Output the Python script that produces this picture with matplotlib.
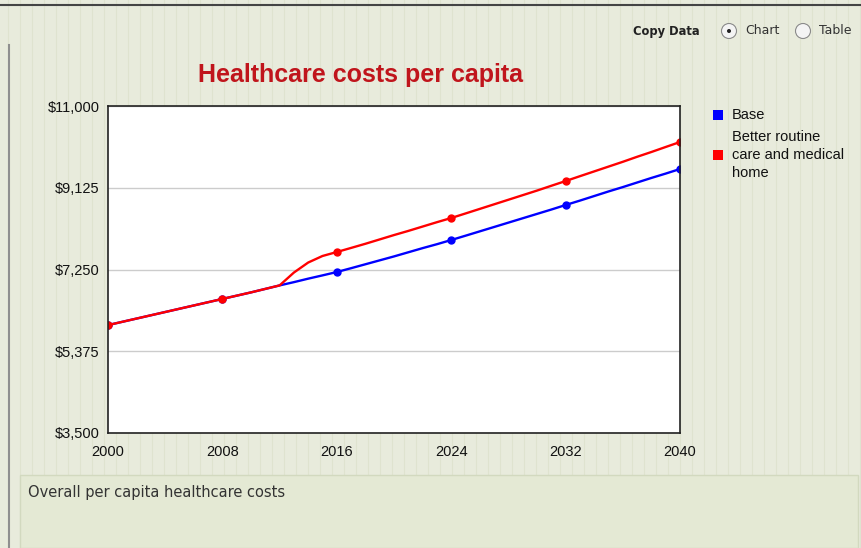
import matplotlib
matplotlib.use("Agg")
import matplotlib.pyplot as plt
from matplotlib.patches import Rectangle, Circle
from matplotlib.lines import Line2D
from matplotlib.ticker import FuncFormatter

years = list(range(2000, 2041))
base = [5975, 6050, 6125, 6200, 6275, 6350, 6425, 6500, 6575, 6650,
        6725, 6805, 6885, 6960, 7040, 7115, 7192, 7280, 7370, 7460,
        7550, 7645, 7740, 7830, 7926, 8025, 8125, 8225, 8325, 8425,
        8525, 8625, 8729, 8830, 8935, 9040, 9140, 9245, 9350, 9450, 9555]
better_care = [5975, 6050, 6125, 6200, 6275, 6350, 6425, 6500, 6575, 6650,
               6725, 6805, 6885, 7180, 7410, 7560, 7651, 7745, 7840, 7940,
               8040, 8135, 8235, 8335, 8431, 8535, 8640, 8745, 8850, 8955,
               9060, 9170, 9279, 9390, 9500, 9610, 9720, 9835, 9945, 10060, 10174]
series_names = ["Base", "Better routine\ncare and medical\nhome"]
yticks = [3500, 5375, 7250, 9125, 11000]
xticks = [2000, 2008, 2016, 2024, 2032, 2040]

W, H = 861, 548
bg = "#e8ebdc"
fig = plt.figure(figsize=(W / 100, H / 100), dpi=100, facecolor=bg)

# faint vertical stripes of the page background
for x in range(8, W, 12):
    fig.add_artist(Line2D([x / W, x / W], [0, 1], color="#dfe3cf", lw=0.8, zorder=0))

# top border and left border
fig.add_artist(Line2D([0, 1], [1 - 5 / H, 1 - 5 / H], color="#444444", lw=1.5))
fig.add_artist(Line2D([9 / W, 9 / W], [0, 1 - 45 / H], color="#8f8f8f", lw=1.5))

# caption box at the bottom
fig.add_artist(Rectangle((20 / W, 0), 838 / W, 73 / H, transform=fig.transFigure,
                         facecolor="#e4e9d4", edgecolor="#d2d9bf", lw=1.0, zorder=1))
fig.text(28 / W, 1 - 492 / H, "Overall per capita healthcare costs", fontsize=10.5,
         color="#333333", family="DejaVu Sans", va="center", ha="left")

# copy data / radio controls
fig.text(700 / W, 1 - 31 / H, "Copy Data", fontsize=8.3, fontweight="bold",
         color="#222222", family="DejaVu Sans", ha="right", va="center")
for cx, label, sel in [(729, "Chart", True), (803, "Table", False)]:
    c = Circle((cx, H - 31), 7.5, transform=None, facecolor="#f4f4f4",
               edgecolor="#8a8a8a", lw=0.8)
    fig.add_artist(c)
    if sel:
        fig.add_artist(Circle((cx, H - 31), 2, transform=None,
                              facecolor="#222222", edgecolor="none"))
    fig.text((cx + 16) / W, 1 - 31 / H, label, fontsize=9, color="#333333",
             family="DejaVu Sans", ha="left", va="center")

ax = fig.add_axes([108 / W, 1 - 433 / H, 572 / W, 327 / H])
ax.set_facecolor("white")
ax.plot(years, base, color="#0000ff", lw=1.7, marker="o", markersize=5,
        markevery=8, label=series_names[0])
ax.plot(years, better_care, color="#ff0000", lw=1.7, marker="o", markersize=5,
        markevery=8, label=series_names[1])

ax.set_xlim(2000, 2040)
ax.set_ylim(3500, 11000)
ax.set_xticks(xticks)
ax.set_yticks(yticks)
ax.yaxis.set_major_formatter(FuncFormatter(lambda v, p: "${:,.0f}".format(v)))
ax.grid(axis="y", color="#cccccc", lw=1)
ax.set_axisbelow(True)
ax.tick_params(length=0, labelsize=10.5, labelcolor="#111111")
ax.tick_params(axis="x", pad=9)
ax.tick_params(axis="y", pad=6)
for lbl in ax.get_xticklabels() + ax.get_yticklabels():
    lbl.set_family("Liberation Sans")
for s in ax.spines.values():
    s.set_color("#222222")
    s.set_linewidth(1.2)

fig.text(361 / W, 1 - 75 / H, "Healthcare costs per capita", fontsize=18,
         fontweight="bold", color="#c0151c", family="Liberation Sans",
         ha="center", va="center")

# legend drawn manually to match the layout
leg = [(115, "#0000ff", [(115, "Base")]),
       (155, "#ff0000", [(137, "Better routine"), (155, "care and medical"), (173, "home")])]
for sy, col, lines in leg:
    fig.add_artist(Rectangle((713 / W, 1 - (sy + 5) / H), 10 / W, 10 / H,
                             transform=fig.transFigure, facecolor=col, edgecolor="none"))
    for ly, txt in lines:
        fig.text(732 / W, 1 - ly / H, txt, fontsize=10.5, color="#111111",
                 family="Liberation Sans", ha="left", va="center")

fig.savefig("out.png", dpi=100, facecolor=bg)
